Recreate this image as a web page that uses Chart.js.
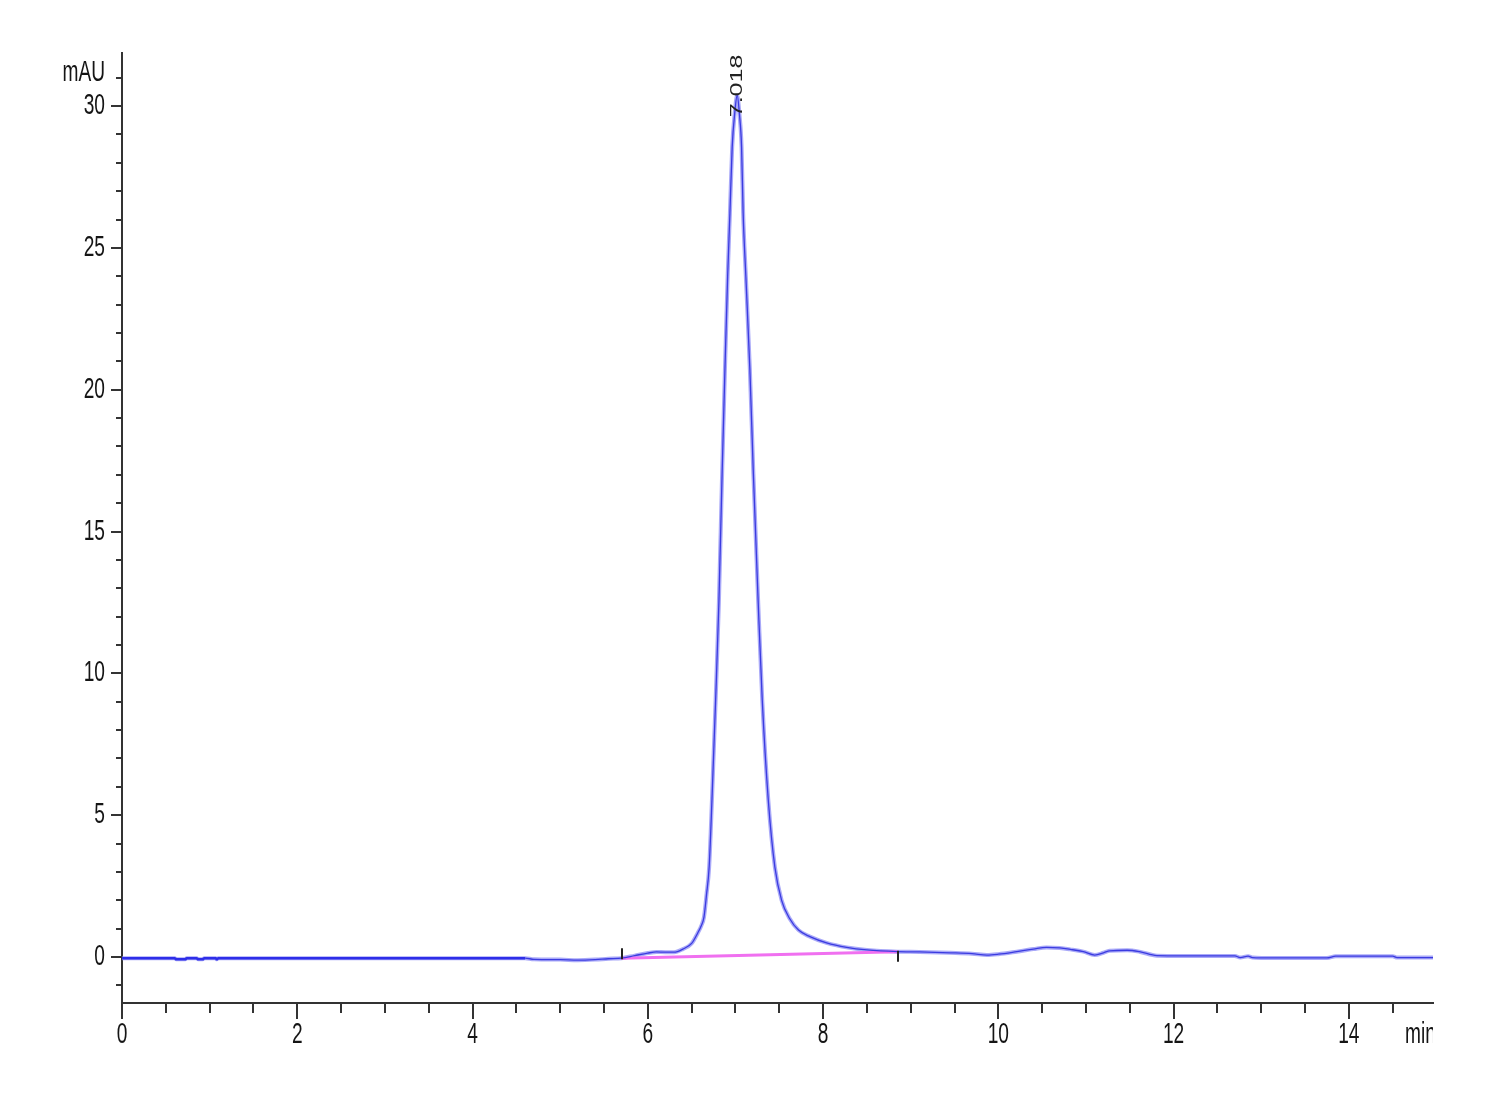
<!DOCTYPE html>
<html>
<head>
<meta charset="utf-8">
<script src="https://cdn.jsdelivr.net/npm/chart.js@4.4.1/dist/chart.umd.min.js"></script>
<style>
  html, body { margin: 0; padding: 0; background: #fff; }
  canvas { display: block; }
</style>
</head>
<body>
<canvas id="chromChart" width="1500" height="1100"></canvas>
<script>
// retention time (min) and signal (mAU)
const times = [
  0, 0.60, 0.62, 0.72, 0.74, 0.85, 0.87, 0.92, 0.94, 1.07, 1.08, 1.10,
  4.60, 4.70, 5.00, 5.20, 5.40, 5.55, 5.70, 5.85, 6.00, 6.10, 6.20, 6.30,
  6.40, 6.50, 6.57, 6.61, 6.641, 6.67, 6.70, 6.732, 6.774, 6.811, 6.849, 6.880,
  6.911, 6.937, 6.963, 6.992, 7.020, 7.046, 7.070, 7.088, 7.119, 7.165, 7.203, 7.260,
  7.306, 7.375, 7.45, 7.527, 7.62, 7.72, 7.85, 8.04, 8.27, 8.50, 8.85, 9.10,
  9.45, 9.70, 9.87, 10.00, 10.21, 10.40, 10.55, 10.70, 10.82, 10.97, 11.10, 11.20,
  11.27, 11.47, 11.61, 11.81, 12.10, 12.70, 12.76, 12.85, 12.90, 13.00, 13.75, 13.85,
  14.50, 14.55, 14.96
];
const signal = [
  -0.04, -0.04, -0.08, -0.08, -0.04, -0.04, -0.08, -0.08, -0.04, -0.04, -0.08, -0.04,
  -0.04, -0.08, -0.09, -0.11, -0.09, -0.06, -0.04, 0.05, 0.14, 0.18, 0.17, 0.17,
  0.28, 0.48, 0.85, 1.10, 1.41, 2.20, 3.17, 5.53, 9.06, 12.48, 17.17, 20.69,
  23.98, 26.22, 28.56, 29.75, 30.38, 29.70, 28.56, 26.22, 23.98, 20.69, 17.17, 12.48,
  9.06, 5.53, 3.17, 2.00, 1.35, 0.95, 0.72, 0.50, 0.34, 0.25, 0.19, 0.18,
  0.15, 0.12, 0.07, 0.10, 0.19, 0.28, 0.34, 0.32, 0.27, 0.19, 0.07, 0.15,
  0.22, 0.24, 0.19, 0.05, 0.04, 0.04, -0.02, 0.03, -0.02, -0.03, -0.03, 0.03,
  0.03, -0.02, -0.02
];

// integration baseline under the main peak
const baselineTimes = [5.70, 8.85];
const baselineValues = [-0.04, 0.19];

// peak annotation
const peakTimes = [7.018];
const peakLabels = ['7.018'];

// axes
const xTickLabels = ['0', '2', '4', '6', '8', '10', '12', '14'];
const yTickLabels = ['0', '5', '10', '15', '20', '25', '30'];
const xRange = [0, 14.96];
const yRange = [-1.62, 31.87];

const tracePoints = times.map((t, i) => ({ x: t, y: signal[i] }));
const baselinePoints = baselineTimes.map((t, i) => ({ x: t, y: baselineValues[i] }));

const TEXT_FONT = '"Liberation Sans", Arial, sans-serif';
const SQUEEZE = 0.66;

function squeezedText(ctx, text, x, y, align) {
    ctx.save();
    ctx.translate(x, y);
    ctx.scale(SQUEEZE, 1);
    ctx.textAlign = align;
    ctx.textBaseline = 'middle';
    ctx.fillText(text, 0, 0);
    ctx.restore();
}

// tick marks, tick labels, units and the peak label
const axisDecor = {
    id: 'axisDecor',
    afterDraw(chart) {
        const { ctx, chartArea, scales } = chart;
        const xs = scales.x, ys = scales.y;
        ctx.save();
        ctx.strokeStyle = '#333';
        ctx.lineWidth = 2;

        // x ticks every 0.5 min, longer at labelled ones
        for (let i = 0; i * 0.5 <= xRange[1]; i++) {
            const v = i * 0.5;
            const px = Math.round(xs.getPixelForValue(v));
            const major = xTickLabels.includes(String(v));
            ctx.beginPath();
            ctx.moveTo(px, chartArea.bottom);
            ctx.lineTo(px, chartArea.bottom + (major ? 16 : 10));
            ctx.stroke();
        }
        // y ticks every 1 mAU
        for (let v = -1; v <= 31; v++) {
            const py = Math.round(ys.getPixelForValue(v));
            const major = yTickLabels.includes(String(v));
            ctx.beginPath();
            ctx.moveTo(chartArea.left, py);
            ctx.lineTo(chartArea.left - (major ? 11 : 6), py);
            ctx.stroke();
        }

        ctx.fillStyle = '#151515';
        ctx.font = '29px ' + TEXT_FONT;
        xTickLabels.forEach(lbl => {
            squeezedText(ctx, lbl, xs.getPixelForValue(Number(lbl)), chartArea.bottom + 32, 'center');
        });
        yTickLabels.forEach(lbl => {
            squeezedText(ctx, lbl, chartArea.left - 17, ys.getPixelForValue(Number(lbl)), 'right');
        });
        squeezedText(ctx, 'mAU', chartArea.left - 17, ys.getPixelForValue(31) - 5, 'right');

        // "min" unit, cut off at the end of the axis
        ctx.save();
        ctx.beginPath();
        ctx.rect(chartArea.right - 60, chartArea.bottom + 10, 60, 50);
        ctx.clip();
        squeezedText(ctx, 'min', chartArea.right - 28, chartArea.bottom + 32, 'left');
        ctx.restore();

        // integration start / end marks
        ctx.lineWidth = 2;
        ctx.strokeStyle = '#222';
        const bx0 = Math.round(xs.getPixelForValue(baselineTimes[0]));
        const by0 = ys.getPixelForValue(baselineValues[0]);
        ctx.beginPath(); ctx.moveTo(bx0, by0 + 1); ctx.lineTo(bx0, by0 - 10); ctx.stroke();
        const bx1 = Math.round(xs.getPixelForValue(baselineTimes[1]));
        const by1 = ys.getPixelForValue(baselineValues[1]);
        ctx.beginPath(); ctx.moveTo(bx1, by1 - 1); ctx.lineTo(bx1, by1 + 10); ctx.stroke();

        // retention time label, rotated
        const peakTop = Math.max(...signal);
        ctx.fillStyle = '#222';
        ctx.font = '25px ' + TEXT_FONT;
        peakTimes.forEach((t, i) => {
            ctx.save();
            ctx.translate(xs.getPixelForValue(t), ys.getPixelForValue(peakTop) + 22);
            ctx.rotate(-Math.PI / 2);
            ctx.scale(1, SQUEEZE);
            ctx.textAlign = 'left';
            ctx.textBaseline = 'middle';
            ctx.fillText(peakLabels[i], 0, 0);
            ctx.restore();
        });
        ctx.restore();
    }
};

const zeroSize = scale => { scale.width = scale.isHorizontal() ? scale.width : 0; scale.height = scale.isHorizontal() ? 0 : scale.height; };

new Chart(document.getElementById('chromChart'), {
    type: 'line',
    data: {
        datasets: [
            {
                // core line
                data: tracePoints,
                borderColor: '#3535e4',
                borderWidth: 1.3,
                segment: {
                    borderWidth: c => c.p1.parsed.x <= 4.6 ? 2.6 : 1.3,
                    borderColor: c => c.p1.parsed.x <= 4.6 ? '#2e2ee8' : '#3b3be0'
                },
                pointRadius: 0,
                cubicInterpolationMode: 'monotone'
            },
            {
                data: baselinePoints,
                borderColor: '#f070f0',
                borderWidth: 3,
                pointRadius: 0,
                tension: 0
            },
            {
                // soft halo around the trace
                data: tracePoints,
                borderColor: 'rgba(140, 140, 245, 0.75)',
                borderWidth: 4,
                pointRadius: 0,
                cubicInterpolationMode: 'monotone'
            }
        ]
    },
    options: {
        responsive: false,
        devicePixelRatio: 1,
        animation: false,
        layout: { padding: { left: 122, top: 53, right: 67, bottom: 97 } },
        plugins: { legend: { display: false }, tooltip: { enabled: false } },
        scales: {
            x: {
                type: 'linear',
                min: xRange[0],
                max: xRange[1],
                grid: { display: false, drawTicks: false },
                border: { display: true, color: '#333', width: 2 },
                ticks: { display: false, stepSize: 0.5 },
                afterFit: zeroSize
            },
            y: {
                type: 'linear',
                min: yRange[0],
                max: yRange[1],
                grid: { display: false, drawTicks: false },
                border: { display: true, color: '#333', width: 2 },
                ticks: { display: false, stepSize: 1 },
                afterFit: zeroSize
            }
        }
    },
    plugins: [axisDecor]
});
</script>
</body>
</html>
